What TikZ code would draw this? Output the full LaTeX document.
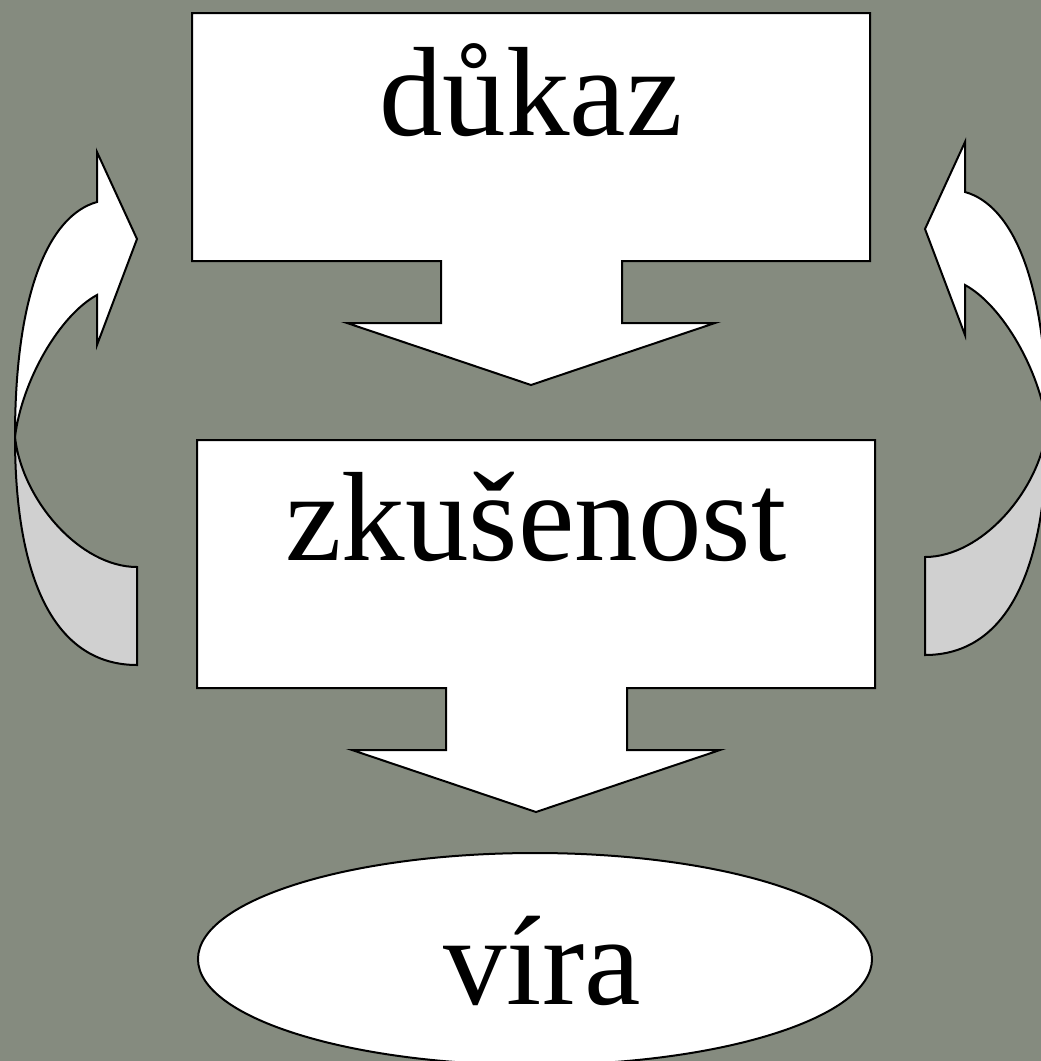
\documentclass[tikz,border=0pt]{standalone}
\usepackage{fontspec}
\setmainfont{Liberation Serif}
\definecolor{bg}{RGB}{133,139,127}
\definecolor{backside}{RGB}{208,208,208}
\begin{document}
\begin{tikzpicture}[x=1pt,y=-1pt,
  shapeline/.style={draw=black, line width=2pt, line join=miter},
  front/.style={shapeline, fill=white},
  back/.style={shapeline, fill=backside},
  lbl/.style={anchor=base, inner sep=0pt, font=\fontsize{127}{150}\selectfont}]
\fill[bg] (0,0) rectangle (1041,1061);
\useasboundingbox (0,0) rectangle (1041,1061);
% down-arrow callout 1
\draw[front] (192,13) -- (870,13) -- (870,261) -- (622,261) -- (622,323) -- (715,323)
  -- (531,385) -- (347,323) -- (441,323) -- (441,261) -- (192,261) -- cycle;
% down-arrow callout 2
\begin{scope}[xshift=5pt, yshift=-427pt]
\draw[front] (192,13) -- (870,13) -- (870,261) -- (622,261) -- (622,323) -- (715,323)
  -- (531,385) -- (347,323) -- (441,323) -- (441,261) -- (192,261) -- cycle;
\end{scope}
% ellipse
\draw[front] (535,959) ellipse [x radius=337, y radius=106];
% left curved arrow
\coordinate (P) at (15,437);
\draw[back] (P) .. controls (15,580) and (55,665) .. (137,665) -- (137,567)
  .. controls (80,567) and (22,500) .. (P) -- cycle;
\draw[front] (97,202) .. controls (50,215) and (15,290) .. (P)
  .. controls (22,380) and (60,315) .. (97,295) -- (97,345) -- (137,239) -- (97,152) -- cycle;
% right curved arrow (mirror)
\begin{scope}[xshift=1062pt, yshift=10pt, xscale=-1]
\coordinate (Q) at (15,437);
\draw[back] (Q) .. controls (15,580) and (55,665) .. (137,665) -- (137,567)
  .. controls (80,567) and (22,500) .. (Q) -- cycle;
\draw[front] (97,202) .. controls (50,215) and (15,290) .. (Q)
  .. controls (22,380) and (60,315) .. (97,295) -- (97,345) -- (137,239) -- (97,152) -- cycle;
\end{scope}
% labels
\node[lbl] (dukaz) at (531,135) {důkaz};
\node[lbl] (zkusenost) at (536,560) {zkušenost};
\node[lbl] (vira) at (542,1004) {víra};
\end{tikzpicture}
\end{document}
